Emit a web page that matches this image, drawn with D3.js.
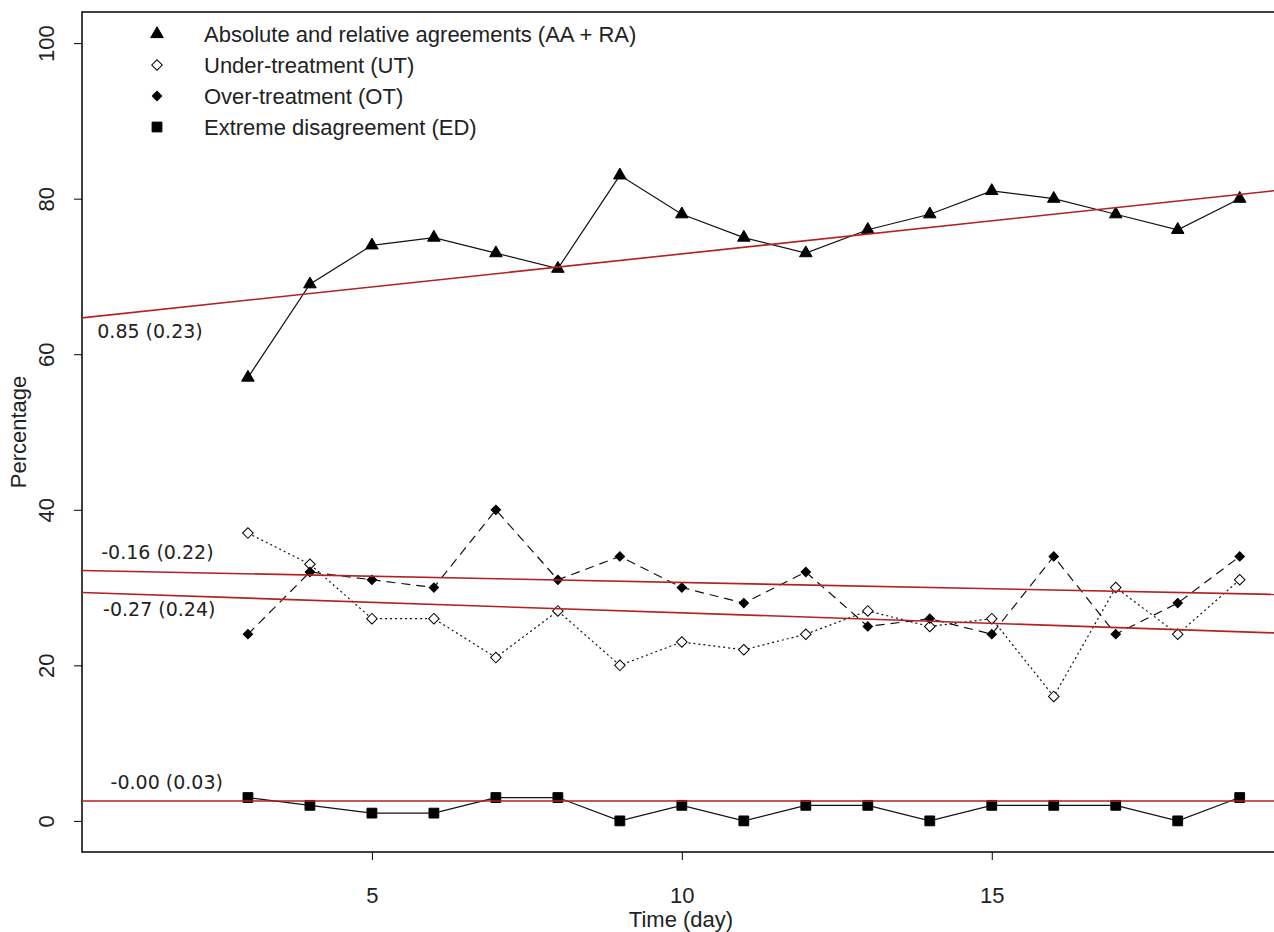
<!DOCTYPE html>
<html>
<head>
<meta charset="utf-8">
<script src="https://cdn.jsdelivr.net/npm/d3@7"></script>
<style>
    body {
        margin: 0;
        background: #fff;
    }
    svg {
        display: block;
    }
</style>
</head>
<body>
<script>
// 天数
const days = [3, 4, 5, 6, 7, 8, 9, 10, 11, 12, 13, 14, 15, 16, 17, 18, 19];

// 各序列的百分比
const aaValues = [57, 69, 74, 75, 73, 71, 83, 78, 75, 73, 76, 78, 81, 80, 78, 76, 80];
const utValues = [37, 33, 26, 26, 21, 27, 20, 23, 22, 24, 27, 25, 26, 16, 30, 24, 31];
const otValues = [24, 32, 31, 30, 40, 31, 34, 30, 28, 32, 25, 26, 24, 34, 24, 28, 34];
const edValues = [3, 2, 1, 1, 3, 3, 0, 2, 0, 2, 2, 0, 2, 2, 2, 0, 3];

// 图例文字
const legendLabels = [
    'Absolute and relative agreements (AA + RA)',
    'Under-treatment (UT)',
    'Over-treatment (OT)',
    'Extreme disagreement (ED)'
];

// 回归线：截距、斜率、标注
const fitIntercepts = [64.4, 29.45, 32.25, 2.55];
const fitSlopes = [0.85, -0.27, -0.16, 0];
const fitLabels = ['0.85 (0.23)', '-0.27 (0.24)', '-0.16 (0.22)', '-0.00 (0.03)'];
// 标注位置（数据坐标）
const fitLabelX = [1.42, 1.57, 1.54, 1.69];
const fitLabelY = [63, 27.2, 34.5, 5];

// 刻度
const xTicks = [5, 10, 15];
const yTicks = [0, 20, 40, 60, 80, 100];

// svg区域大小
const width = 1274;
const height = 932;
const plot = {
    left: 82,
    right: 1280,
    top: 12,
    bottom: 852
};

const font = '"Liberation Sans", Arial, sans-serif';
const fontSize = 22;
const fitColor = '#b22222';

const x = d3.scaleLinear()
    .domain([0.323, 19.65])
    .range([plot.left, plot.right]);

const y = d3.scaleLinear()
    .domain([-4, 104])
    .range([plot.bottom, plot.top]);

const svg = d3.select('body')
    .append('svg')
    .attr('width', width)
    .attr('height', height);

svg.append('clipPath')
    .attr('id', 'plot-clip')
    .append('rect')
    .attr('x', plot.left)
    .attr('y', plot.top)
    .attr('width', plot.right - plot.left)
    .attr('height', plot.bottom - plot.top);

// 序列样式
const series = [
    {values: aaValues, dash: null, symbol: d3.symbolTriangle, size: 68, rotate: 0, fill: '#000'},
    {values: utValues, dash: '2,3', symbol: d3.symbolSquare, size: 56, rotate: 45, fill: '#fff'},
    {values: otValues, dash: '9,6', symbol: d3.symbolSquare, size: 44, rotate: 45, fill: '#000'},
    {values: edValues, dash: null, symbol: d3.symbolSquare, size: 96, rotate: 0, fill: '#000'}
];

drawAxes();
series.forEach(drawSeries);
drawFits();
drawLegend();

/**
 * 画坐标轴和边框
 */
function drawAxes() {
    const xAxis = svg.append('g')
        .attr('transform', `translate(0,${plot.bottom})`)
        .call(d3.axisBottom(x).tickValues(xTicks).tickSize(8));
    xAxis.select('.domain').remove();
    xAxis.selectAll('text')
        .attr('y', 43)
        .attr('dy', '0.35em')
        .attr('font-size', fontSize)
        .attr('font-family', font)
        .attr('fill', '#222');

    const yAxis = svg.append('g')
        .attr('transform', `translate(${plot.left},0)`)
        .call(d3.axisLeft(y).tickValues(yTicks).tickSize(8));
    yAxis.select('.domain').remove();
    yAxis.selectAll('text')
        .attr('x', 0)
        .attr('dy', '0.35em')
        .attr('text-anchor', 'middle')
        .attr('transform', 'translate(-36,0) rotate(-90)')
        .attr('font-size', fontSize)
        .attr('font-family', font)
        .attr('fill', '#222');

    svg.selectAll('.tick line')
        .attr('stroke', '#000');

    svg.append('rect')
        .attr('x', plot.left)
        .attr('y', plot.top)
        .attr('width', plot.right - plot.left)
        .attr('height', plot.bottom - plot.top)
        .attr('fill', 'none')
        .attr('stroke', '#000')
        .attr('stroke-width', 1.5);

    svg.append('text')
        .attr('x', (plot.left + plot.right) / 2)
        .attr('y', 919)
        .attr('dy', '0.35em')
        .attr('text-anchor', 'middle')
        .attr('font-size', fontSize)
        .attr('font-family', font)
        .attr('fill', '#222')
        .text('Time (day)');

    svg.append('text')
        .attr('transform', `translate(18,${(plot.top + plot.bottom) / 2}) rotate(-90)`)
        .attr('dy', '0.35em')
        .attr('text-anchor', 'middle')
        .attr('font-size', fontSize)
        .attr('font-family', font)
        .attr('fill', '#222')
        .text('Percentage');
}

/**
 * 画一条序列（折线和点）
 *
 * @param {Object} s 序列
 */
function drawSeries(s) {
    const line = d3.line()
        .x((d, i) => x(days[i]))
        .y(d => y(d));

    svg.append('path')
        .datum(s.values)
        .attr('d', line)
        .attr('fill', 'none')
        .attr('stroke', '#111')
        .attr('stroke-width', 1.2)
        .attr('stroke-dasharray', s.dash);

    svg.append('g')
        .selectAll('path')
        .data(s.values)
        .enter()
        .append('path')
        .attr('d', d3.symbol().type(s.symbol).size(s.size))
        .attr('transform', (d, i) => `translate(${x(days[i])},${y(d)}) rotate(${s.rotate})`)
        .attr('fill', s.fill)
        .attr('stroke', '#000')
        .attr('stroke-width', 1);
}

/**
 * 画回归线和标注
 */
function drawFits() {
    const g = svg.append('g')
        .attr('clip-path', 'url(#plot-clip)');
    const x0 = x.domain()[0];
    const x1 = x.domain()[1];

    g.selectAll('line')
        .data(fitIntercepts)
        .enter()
        .append('line')
        .attr('x1', x(x0))
        .attr('x2', x(x1))
        .attr('y1', (d, i) => y(d + fitSlopes[i] * x0))
        .attr('y2', (d, i) => y(d + fitSlopes[i] * x1))
        .attr('stroke', fitColor)
        .attr('stroke-width', 1.6);

    svg.append('g')
        .selectAll('text')
        .data(fitLabels)
        .enter()
        .append('text')
        .attr('x', (d, i) => x(fitLabelX[i]))
        .attr('y', (d, i) => y(fitLabelY[i]))
        .attr('dy', '0.35em')
        .attr('text-anchor', 'middle')
        .attr('font-size', 19)
        .attr('font-family', '"DejaVu Sans", Verdana, sans-serif')
        .attr('fill', '#222')
        .text(d => d);
}

/**
 * 画图例
 */
function drawLegend() {
    const g = svg.append('g')
        .attr('transform', 'translate(157,34)');
    const rowStep = 31;

    const rows = g.selectAll('g')
        .data(legendLabels)
        .enter()
        .append('g')
        .attr('transform', (d, i) => `translate(0,${i * rowStep})`);

    rows.append('path')
        .attr('d', (d, i) => d3.symbol().type(series[i].symbol).size(series[i].size)())
        .attr('transform', (d, i) => `rotate(${series[i].rotate})`)
        .attr('fill', (d, i) => series[i].fill)
        .attr('stroke', '#000')
        .attr('stroke-width', 1);

    rows.append('text')
        .attr('x', 47)
        .attr('dy', '0.35em')
        .attr('font-size', fontSize)
        .attr('font-family', font)
        .attr('fill', '#222')
        .text(d => d);
}
</script>
</body>
</html>
